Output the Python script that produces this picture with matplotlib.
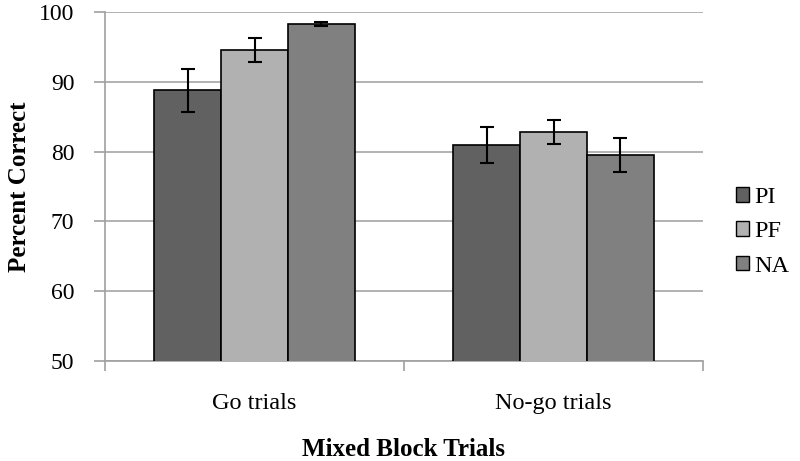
"""
Percent correct by mixed block trial type
"""

import numpy as np
import matplotlib.pyplot as plt
from matplotlib.patches import Patch

categories = ['Go trials', 'No-go trials']
groups = ['PI', 'PF', 'NA']
pi_vals = [88.8, 80.9]
pf_vals = [94.6, 82.8]
na_vals = [98.3, 79.5]
pi_err = [3.1, 2.6]
pf_err = [1.7, 1.7]
na_err = [0.3, 2.45]
yticks = [50, 60, 70, 80, 90, 100]

colors = ['#616161', '#b1b1b1', '#808080']

plt.rcParams['font.family'] = ['Liberation Serif', 'DejaVu Serif']

fig = plt.figure(figsize=(8, 4.61), dpi=100)
ax = fig.add_axes([0.13125, 0.217, 0.7475, 0.757])

x = np.arange(len(categories))
w = 0.224
vals = [pi_vals, pf_vals, na_vals]
errs = [pi_err, pf_err, na_err]
for i in range(3):
    ax.bar(x + (i - 1) * w, vals[i], w, color=colors[i], edgecolor='black',
           linewidth=1.2, zorder=3, yerr=errs[i],
           error_kw=dict(ecolor='black', elinewidth=1.5, capsize=5, capthick=1.5, zorder=4))

ax.set_ylim(50, 100)
ax.set_xlim(-0.5, 1.5)
ax.set_yticks(yticks)
ax.yaxis.grid(True, color='#a6a6a6', linewidth=1.2, zorder=0)
ax.set_xticks(x)
ax.set_xticklabels(categories, fontsize=17.5)
ax.set_xticks([-0.5, 0.5, 1.5], minor=True)
ax.tick_params(axis='x', which='major', length=0, pad=23)
ax.tick_params(axis='x', which='minor', length=7, color='#a0a0a0', width=1.2)
ax.tick_params(axis='y', labelsize=17, length=8, color='#a0a0a0', width=1.2, pad=14)
for s in ['top', 'right']:
    ax.spines[s].set_visible(False)
for s in ['left', 'bottom']:
    ax.spines[s].set_color('#a0a0a0')
    ax.spines[s].set_linewidth(1.2)

ax.set_ylabel('Percent Correct', fontsize=18, fontweight='bold', labelpad=6)
ax.set_xlabel('Mixed Block Trials', fontsize=18, fontweight='bold', labelpad=17)

handles = [Patch(facecolor=c, edgecolor='black') for c in colors]
ax.legend(handles, groups, loc='center left', bbox_to_anchor=(1.055, 0.37),
          frameon=False, fontsize=17.5, handlelength=0.55, handleheight=0.55,
          handletextpad=0.2, labelspacing=0.55, borderpad=0, borderaxespad=0)

fig.savefig('out.png', dpi=100)
